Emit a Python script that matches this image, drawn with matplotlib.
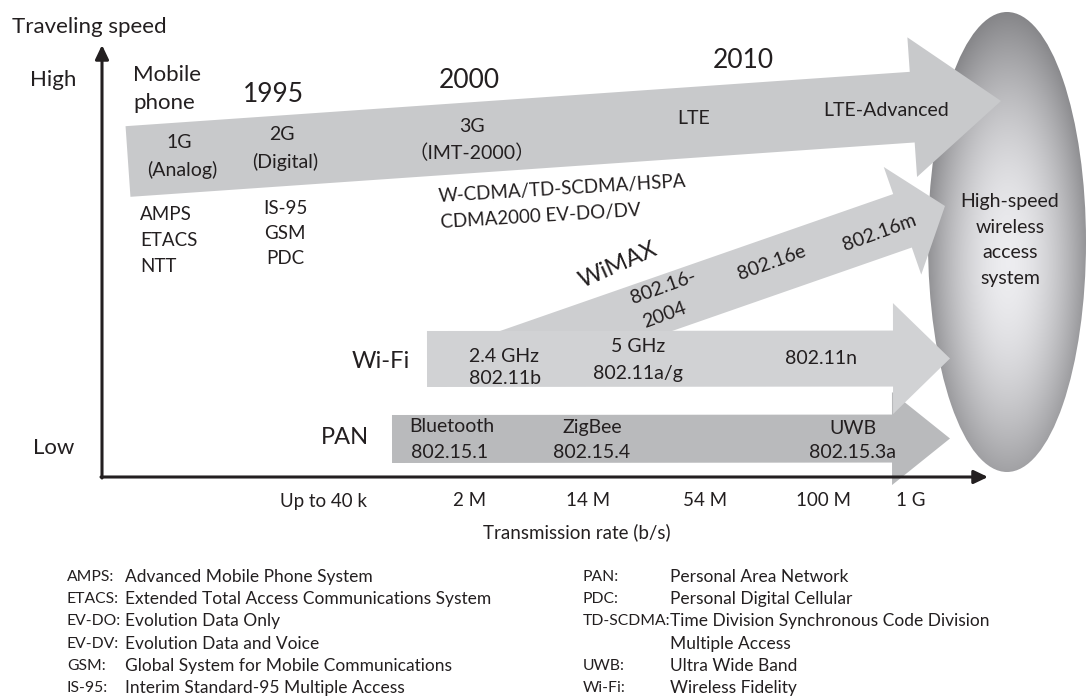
import numpy as np
import matplotlib
matplotlib.use("Agg")
import matplotlib.pyplot as plt
from matplotlib.patches import Polygon, Ellipse, FancyArrowPatch, Rectangle

# ---------------- data (text content) ----------------
years = ["1995", "2000", "2010"]
mobile_labels = [["1G", "(Analog)"], ["2G", "(Digital)"], ["3G", "（IMT-2000）"],
                 ["LTE"], ["LTE-Advanced"]]
first_gen_systems = ["AMPS", "ETACS", "NTT"]
second_gen_systems = ["IS-95", "GSM", "PDC"]
third_gen_systems = ["W-CDMA/TD-SCDMA/HSPA", "CDMA2000 EV-DO/DV"]
wimax_labels = [["802.16-", "2004"], ["802.16e"], ["802.16m"]]
wifi_labels = [["2.4 GHz", "802.11b"], ["5 GHz", "802.11a/g"], ["802.11n"]]
pan_labels = [["Bluetooth", "802.15.1"], ["ZigBee", "802.15.4"], ["UWB", "802.15.3a"]]
rate_ticks = ["Up to 40 k", "2 M", "14 M", "54 M", "100 M", "1 G"]
goal_label = ["High-speed", "wireless", "access", "system"]
legend_left = [("AMPS:", "Advanced Mobile Phone System"),
               ("ETACS:", "Extended Total Access Communications System"),
               ("EV-DO:", "Evolution Data Only"),
               ("EV-DV:", "Evolution Data and Voice"),
               ("GSM:", "Global System for Mobile Communications"),
               ("IS-95:", "Interim Standard-95 Multiple Access")]
legend_right = [("PAN:", "Personal Area Network"),
                ("PDC:", "Personal Digital Cellular"),
                ("TD-SCDMA:", "Time Division Synchronous Code Division"),
                ("", "Multiple Access"),
                ("UWB:", "Ultra Wide Band"),
                ("Wi-Fi:", "Wireless Fidelity")]

# ---------------- layout (pixel space) ----------------
W, H = 1088, 697
INK = "#231f20"
FONT = ["Lato", "DejaVu Sans"]

fig = plt.figure(figsize=(W / 100, H / 100), dpi=100)
ax = fig.add_axes([0, 0, 1, 1])
ax.set_xlim(0, W)
ax.set_ylim(H, 0)
ax.axis("off")


def txt(x, y, s, size, ha="center", va="center", rot=0, family=None):
    ax.text(x, y, s, fontsize=size, ha=ha, va=va, rotation=rot,
            rotation_mode="anchor", color=INK, family=family or FONT, zorder=6)


def arrow_poly(tail, tip, shw, hhw, hl):
    tail = np.asarray(tail, float)
    tip = np.asarray(tip, float)
    d = tip - tail
    u = d / np.hypot(*d)
    n = np.array([-u[1], u[0]])
    neck = tip - u * hl
    return np.array([tail + n * shw, neck + n * shw, neck + n * hhw, tip,
                     neck - n * hhw, neck - n * shw, tail - n * shw])


# ---- goal ellipse with radial gradient ----
cx, cy, ew, eh = 1007, 242, 158, 460
x0, x1, y0, y1 = cx - ew / 2, cx + ew / 2, cy - eh / 2, cy + eh / 2
gx, gy = np.meshgrid(np.linspace(x0, x1, 240), np.linspace(y0, y1, 600))
r = np.sqrt(((gx - 1008) / (ew / 2)) ** 2 + ((gy - 262) / (eh / 2)) ** 2)
v = np.clip(0.93 - 0.35 * r ** 1.8, 0, 1)
rgb = np.dstack([v, v, np.clip(v + 0.012, 0, 1)])
im = ax.imshow(rgb, extent=(x0, x1, y1, y0), origin="upper", zorder=1,
               interpolation="bilinear", aspect="auto")
ell = Ellipse((cx, cy), ew, eh, facecolor="none", edgecolor="none")
ax.add_patch(ell)
im.set_clip_path(ell)
ax.set_xlim(0, W)
ax.set_ylim(H, 0)

# ---- arrows ----
mobile = arrow_poly((128, 161.5), (1001, 101), 35.4, 70, 89)
ax.add_patch(Polygon(mobile, closed=True, facecolor="#c8c9cb", edgecolor="none", zorder=2))

wimax_dir = np.array([np.cos(np.radians(19.2)), -np.sin(np.radians(19.2))])
wimax_tip = np.array([945, 206])
wimax = arrow_poly(wimax_tip - wimax_dir * 500, wimax_tip, 28.3, 57, 45)
wp = Polygon(wimax, closed=True, facecolor="#cdced0", edgecolor="none", zorder=2)
ax.add_patch(wp)
wp.set_clip_path(Rectangle((0, 0), W, 332, transform=ax.transData))

pan = arrow_poly((392, 439), (950, 438.5), 24, 46.5, 58)
ax.add_patch(Polygon(pan, closed=True, facecolor="#b9babc", edgecolor="none", zorder=2.1))

wifi = arrow_poly((427, 359), (950, 358.5), 28, 55.5, 57)
ax.add_patch(Polygon(wifi, closed=True, facecolor="#d1d2d4", edgecolor="none", zorder=2.2))

# ---- axes ----
for start, end in [((102, 478), (102, 45)), ((101, 477), (988, 477))]:
    ax.add_patch(FancyArrowPatch(start, end, arrowstyle="-|>,head_length=0.42,head_width=0.2",
                                 mutation_scale=20, lw=2.2, color=INK, shrinkA=0, shrinkB=0,
                                 zorder=4))

txt(12, 27, "Traveling speed", 16, ha="left")
txt(53, 80, "High", 16)
txt(54, 448, "Low", 16)

# ---- mobile phone ----
txt(133, 75, "Mobile", 16, ha="left")
txt(133, 103, "phone", 16, ha="left")
for s, (x, y) in zip(years, [(273, 94), (469, 81), (743, 61)]):
    txt(x, y, s, 19)
mob_pos = [[(179, 143), (182, 170)], [(282, 135), (285, 162)], [(472, 127), (472, 153)],
           [(694, 118)], [(886, 110)]]
for lines, poss in zip(mobile_labels, mob_pos):
    for s, (x, y) in zip(lines, poss):
        fam = ["Lato", "Noto Sans CJK JP"] if "（" in s else None
        txt(x, y, s, 14, family=fam)
for i, s in enumerate(first_gen_systems):
    txt(140, 215 + 26 * i, s, 13.5, ha="left")
for i, s in enumerate(second_gen_systems):
    txt(285, 208 + 25.5 * i, s, 13.5)
for s, (x, y) in zip(third_gen_systems, [(438, 197), (441, 223)]):
    txt(x, y, s, 13.5, ha="left", rot=3.5)

# ---- WiMAX ----
txt(618, 265, "WiMAX", 17, rot=24)
wimax_pos = [[(663, 287), (665, 315)], [(772, 263)], [(879, 233)]]
for lines, poss in zip(wimax_labels, wimax_pos):
    for s, (x, y) in zip(lines, poss):
        txt(x, y, s, 14, rot=20)

# ---- Wi-Fi ----
txt(381, 362, "Wi-Fi", 17)
wifi_pos = [[(504, 356), (505, 378)], [(638, 346), (638, 374)], [(821, 358)]]
for lines, poss in zip(wifi_labels, wifi_pos):
    for s, (x, y) in zip(lines, poss):
        txt(x, y, s, 14)

# ---- PAN ----
txt(345, 438, "PAN", 17)
pan_pos = [[(409, 427), (411, 452)], [(592, 428), (592, 452)], [(853, 428), (853, 452)]]
for k, (lines, poss) in enumerate(zip(pan_labels, pan_pos)):
    for s, (x, y) in zip(lines, poss):
        txt(x, y, s, 14, ha="left" if k == 0 else "center")

# ---- goal ----
for i, s in enumerate(goal_label):
    txt(1010, 202 + 25.5 * i, s, 14)

# ---- x ticks ----
for s, x in zip(rate_ticks, [323, 470, 588, 705, 824, 911]):
    txt(x, 501, s, 13.5)
txt(577, 532, "Transmission rate (b/s)", 13.5)

# ---- legend ----
for i, (a, b) in enumerate(legend_left):
    y = 577 + 22.2 * i
    txt(67, y, a, 11.3, ha="left")
    txt(125, y, b, 12.5, ha="left")
for i, (a, b) in enumerate(legend_right):
    y = 577 + 22.2 * i
    if a:
        txt(583, y, a, 11.3, ha="left")
    txt(670, y, b, 12.5, ha="left")

fig.savefig("out.png", dpi=100)
